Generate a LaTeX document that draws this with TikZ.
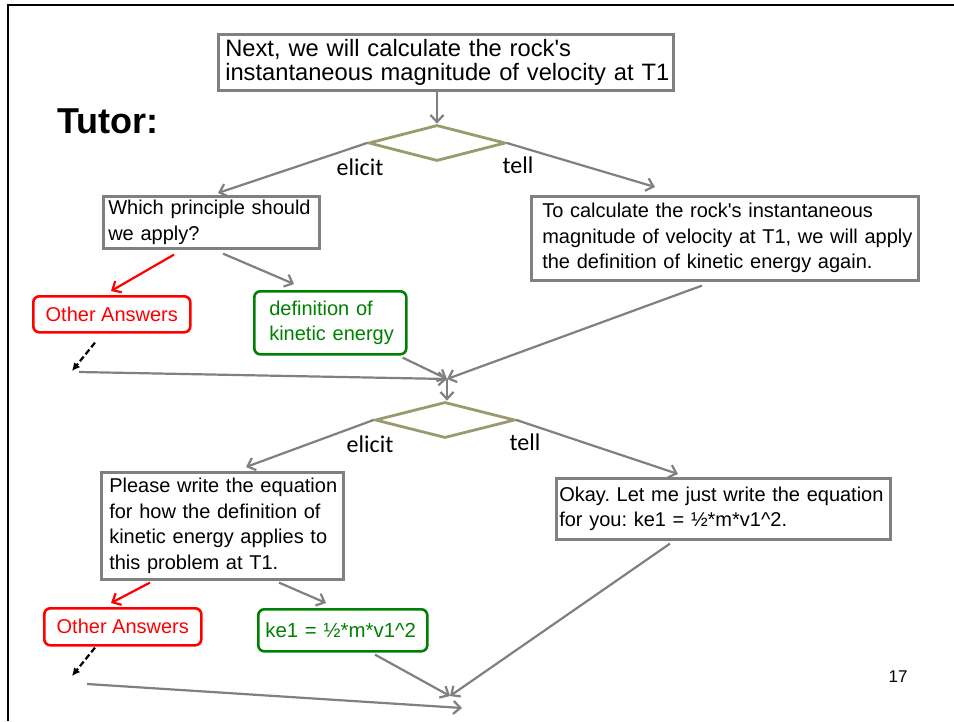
\documentclass[tikz,border=0pt]{standalone}
\usepackage{fontspec}
\setmainfont{Liberation Sans}
\newfontfamily\calfont{Carlito}
\usetikzlibrary{shapes.geometric,arrows.meta,calc}
\definecolor{boxgray}{HTML}{808080}
\definecolor{olivegray}{HTML}{9A9A6E}
\definecolor{ansred}{HTML}{FF0000}
\definecolor{ansgreen}{HTML}{008000}
\frenchspacing
\newcommand{\bxline}[1]{\mbox{#1}}
\tikzset{
  bxtext/.style={font=\fontsize{20}{25.5}\selectfont},
  gbox/.style={draw=boxgray, line width=2.6pt, fill=white, anchor=north west, align=left, inner ysep=0pt, bxtext},
  rbox/.style={draw=ansred, line width=2.6pt, rounded corners=6pt, fill=white, text=ansred, anchor=north west, align=center, inner sep=0pt, bxtext},
  grbox/.style={draw=ansgreen, line width=2.6pt, rounded corners=6pt, fill=white, text=ansgreen, anchor=north west, align=left, inner ysep=0pt, bxtext},
  choice/.style={draw=olivegray, line width=2.8pt, fill=white, shape=diamond, minimum width=137pt, minimum height=36pt, inner sep=0pt},
  lbl/.style={font=\calfont\fontsize{24}{24}\selectfont, inner sep=0pt},
  garrow/.style={draw=boxgray, line width=2.2pt, -{Straight Barb[length=7pt,width=13pt]}},
  rarrow/.style={draw=ansred, line width=2.2pt, -{Straight Barb[length=7pt,width=13pt]}},
  darrow/.style={draw=black, line width=2.2pt, dash pattern=on 6pt off 3pt, -{Latex[length=8pt,width=8pt]}},
}
\begin{document}
\begin{tikzpicture}[x=1pt,y=-1pt]
\useasboundingbox (0,0) rectangle (954,721);
\fill[white] (0,0) rectangle (954,721);
% frame
\draw[line width=2.2pt] (8,721) -- (8,5) -- (954,5);

\node[font=\bfseries\fontsize{36}{36}\selectfont, inner sep=0pt] (tutor) at (108,121) {Tutor:};
\node[font=\fontsize{17}{17}\selectfont, inner sep=0pt] (pgno) at (898,677) {17};

% top
\node[gbox, inner xsep=7pt, text width=441pt, minimum height=56pt, font=\fontsize{23.7}{24}\selectfont] (top) at (217,33)
  {\bxline{Next, we will calculate the rock\textquotesingle s}\\\bxline{instantaneous magnitude of velocity at T1}};
\node[choice] (d1) at (437,143) {};
\node[lbl] (el1) at (360,167) {elicit};
\node[lbl] (te1) at (518,165) {tell};

\node[gbox, inner xsep=5pt, text width=206pt, minimum height=52pt] (which) at (102,195)
  {\bxline{Which principle should}\\\bxline{we apply?}};
\node[gbox, inner xsep=11pt, text width=365pt, minimum height=84pt] (tocalc) at (530,195)
  {\bxline{To calculate the rock\textquotesingle s instantaneous}\\\bxline{magnitude of velocity at T1, we will apply}\\\bxline{the definition of kinetic energy again.}};
\node[rbox, minimum width=157pt, minimum height=36pt] (oa1) at (32,295) {Other Answers};
\node[grbox, inner xsep=15pt, text width=122pt, minimum height=63pt] (defke) at (253,290)
  {\bxline{definition of}\\\bxline{kinetic energy}};

\coordinate (m1) at (447,379);
\coordinate (l1) at (79,372);
\coordinate (dend1) at (72,371);

\node[choice, minimum width=140pt] (d2) at (445,420) {};
\node[lbl] (el2) at (370,444) {elicit};
\node[lbl] (te2) at (525,442) {tell};

\node[gbox, inner xsep=8pt, text width=226pt, minimum height=107pt] (please) at (100,471)
  {\bxline{Please write the equation}\\\bxline{for how the definition of}\\\bxline{kinetic energy applies to}\\\bxline{this problem at T1.}};
\node[gbox, inner xsep=3pt, text width=328pt, minimum height=61pt] (okay) at (555,477)
  {\bxline{Okay. Let me just write the equation}\\\bxline{for you: ke1 = ½*m*v1\textasciicircum 2.}};
\node[rbox, minimum width=157pt, minimum height=37pt] (oa2) at (43,607) {Other Answers};
\node[grbox, inner xsep=7pt, text width=155pt, minimum height=42pt, font=\fontsize{20.4}{25.5}\selectfont] (ke1) at (257,608)
  {\bxline{ke1 = ½*m*v1\textasciicircum 2}};

\coordinate (m2) at (450,696);
\coordinate (m3) at (462,708);
\coordinate (l2) at (87,684);
\coordinate (dend2) at (72,676);

% connectors, part 1
\draw[garrow] (top.south -| d1.north) -- (d1.north);
\draw[garrow] (d1.west) -- ($(which.north west)+(116,-2)$);
\draw[garrow] (d1.east) -- ($(tocalc.north west)+(125,-8)$);
\draw[rarrow] ($(which.south west)+(72,5)$) -- ($(oa1.north west)+(79,-4)$);
\draw[garrow] ($(which.south west)+(121,4)$) -- ($(defke.north west)+(41,-6)$);
\draw[darrow] ($(oa1.south west)+(63,9)$) -- (dend1);
\draw[garrow] (l1) -- (m1);
\draw[garrow] ($(defke.south east)+(-5,2)$) -- (m1);
\draw[garrow] ($(tocalc.south west)+(172,4)$) -- (m1);
\draw[garrow] (m1) -- (m1 |- d2.north);

% connectors, part 2
\draw[garrow] (d2.west) -- ($(please.north west)+(146,-4)$);
\draw[garrow] (d2.east) -- ($(okay.north west)+(123,-3)$);
\draw[rarrow] ($(please.south west)+(50,2)$) -- ($(oa2.north west)+(68,-4)$);
\draw[garrow] ($(please.south west)+(179,2)$) -- ($(ke1.north west)+(69,-5)$);
\draw[darrow] ($(oa2.south west)+(52,1)$) -- (dend2);
\draw[garrow] (l2) -- (m3);
\draw[garrow] ($(ke1.south west)+(118,2)$) -- (m2);
\draw[garrow] ($(okay.south west)+(115,3)$) -- (m2);
\end{tikzpicture}
\end{document}
